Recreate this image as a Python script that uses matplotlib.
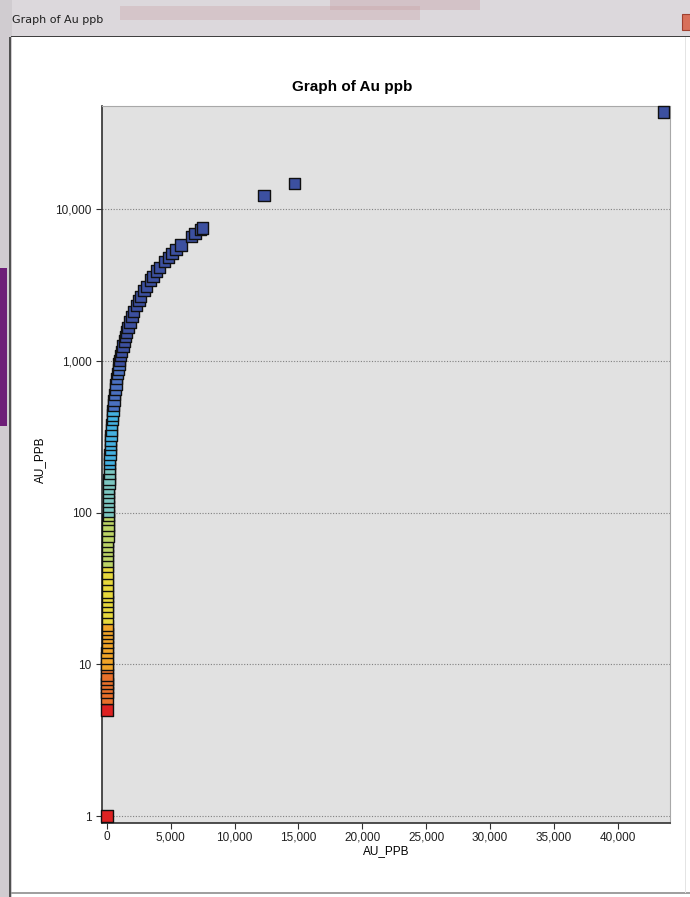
import numpy as np
import matplotlib
matplotlib.use('Agg')
import matplotlib.pyplot as plt
from matplotlib.patches import Rectangle

# Au values (ppb) - plotted against themselves
au_ppb = [1, 5, 6, 6.5, 7, 7.5, 8, 8.5, 9.5, 10, 11, 12, 13, 14, 15, 16, 17, 18,
          20, 22, 24, 26, 28, 30, 33, 36, 40, 44, 48, 52, 56, 60, 65, 70, 76,
          82, 90, 96, 102, 110, 118, 125, 135, 145, 155, 165, 180, 195, 210,
          225, 240, 260, 280, 300, 320, 350, 380, 410, 440, 470, 510, 550, 600,
          650, 700, 760, 820, 880, 950, 1000, 1080, 1150, 1250, 1350, 1450,
          1550, 1650, 1800, 1950, 2100, 2300, 2500, 2650, 2900, 3100, 3400,
          3600, 3900, 4100, 4500, 4800, 5100, 5400, 5800, 6600, 6900, 7300,
          7500, 12300, 14700, 43600]

# colour classes
class_breaks = [5.5, 9.8, 19, 45, 98, 200, 480, 1000]
class_colors = ['#dd2222', '#e8702a', '#f0a428', '#e6d83c', '#bcd466',
                '#7cc6c0', '#44b0e0', '#4a70c0', '#3c50a0']

y_ticks = [1, 10, 100, 1000, 10000]
y_labels = ['1', '10', '100', '1,000', '10,000']
x_ticks = [0, 5000, 10000, 15000, 20000, 25000, 30000, 35000, 40000]
x_labels = ['0', '5,000', '10,000', '15,000', '20,000', '25,000', '30,000',
            '35,000', '40,000']

plt.rcParams['font.family'] = ['Liberation Sans', 'DejaVu Sans']

fig = plt.figure(figsize=(6.9, 8.97), dpi=100)
fig.patch.set_facecolor('white')

# window chrome
W, H = 690, 897
def px(x, y, w, h, **kw):
    fig.patches.append(Rectangle((x / W, 1 - (y + h) / H), w / W, h / H,
                                 transform=fig.transFigure, **kw))

px(0, 0, 690, 37, facecolor='#dcd8dc', edgecolor='none')
px(120, 6, 300, 14, facecolor='#d0b4b8', edgecolor='none', alpha=0.5)
px(330, 0, 150, 10, facecolor='#c49aa0', edgecolor='none', alpha=0.35)
px(0, 0, 12, 897, facecolor='#d0ccd0', edgecolor='none')
px(0, 268, 7, 158, facecolor='#6e1e78', edgecolor='none')
px(9, 37, 2, 860, facecolor='#505050', edgecolor='none')
px(11, 36, 679, 1.5, facecolor='#404040', edgecolor='none')
px(11, 892, 679, 1.5, facecolor='#a0a0a0', edgecolor='none')
px(685, 37, 1, 856, facecolor='#e4e4e4', edgecolor='none')
px(682, 14, 10, 16, facecolor='#d8705a', edgecolor='#a04030', lw=0.8)
fig.text(12 / W, 1 - 20 / H, 'Graph of Au ppb', fontsize=8,
         family=['DejaVu Sans'], va='center', ha='left', color='#202020')

ax = fig.add_axes([102 / W, 1 - 823 / H, (670 - 102) / W, (823 - 106) / H])
ax.set_facecolor('#e1e1e1')

vals = np.array(au_ppb)
cols = [class_colors[i] for i in np.digitize(vals, class_breaks)]
ax.scatter(vals, vals, s=66, marker='s', c=cols, edgecolors='#101010',
           linewidths=1.0, zorder=3, clip_on=False)

ax.set_yscale('log')
ax.set_xlim(-390, 44100)
ax.set_ylim(0.9, 47700)
ax.set_yticks(y_ticks)
ax.set_yticklabels(y_labels)
ax.minorticks_off()
ax.set_xticks(x_ticks)
ax.set_xticklabels(x_labels)
ax.tick_params(labelsize=8.5, length=4, color='#303030', labelcolor='#202020')
ax.tick_params(axis='x', pad=2)

for yv in y_ticks:
    ax.axhline(yv, color='#808080', lw=0.8, ls=(0, (1, 1.5)), zorder=1)

for s in ['left', 'bottom']:
    ax.spines[s].set_color('#303030')
    ax.spines[s].set_linewidth(1.2)
for s in ['top', 'right']:
    ax.spines[s].set_color('#a8a8a8')

fig.text(352 / W, 1 - 87 / H, 'Graph of Au ppb', fontsize=11,
         fontweight='bold', ha='center', va='center')
ax.set_xlabel('AU_PPB', fontsize=8.5, labelpad=1)
ax.set_ylabel('AU_PPB', fontsize=8.5, labelpad=4)
ax.yaxis.set_label_coords(-0.098, 0.506)

fig.savefig('out.png', dpi=100)
